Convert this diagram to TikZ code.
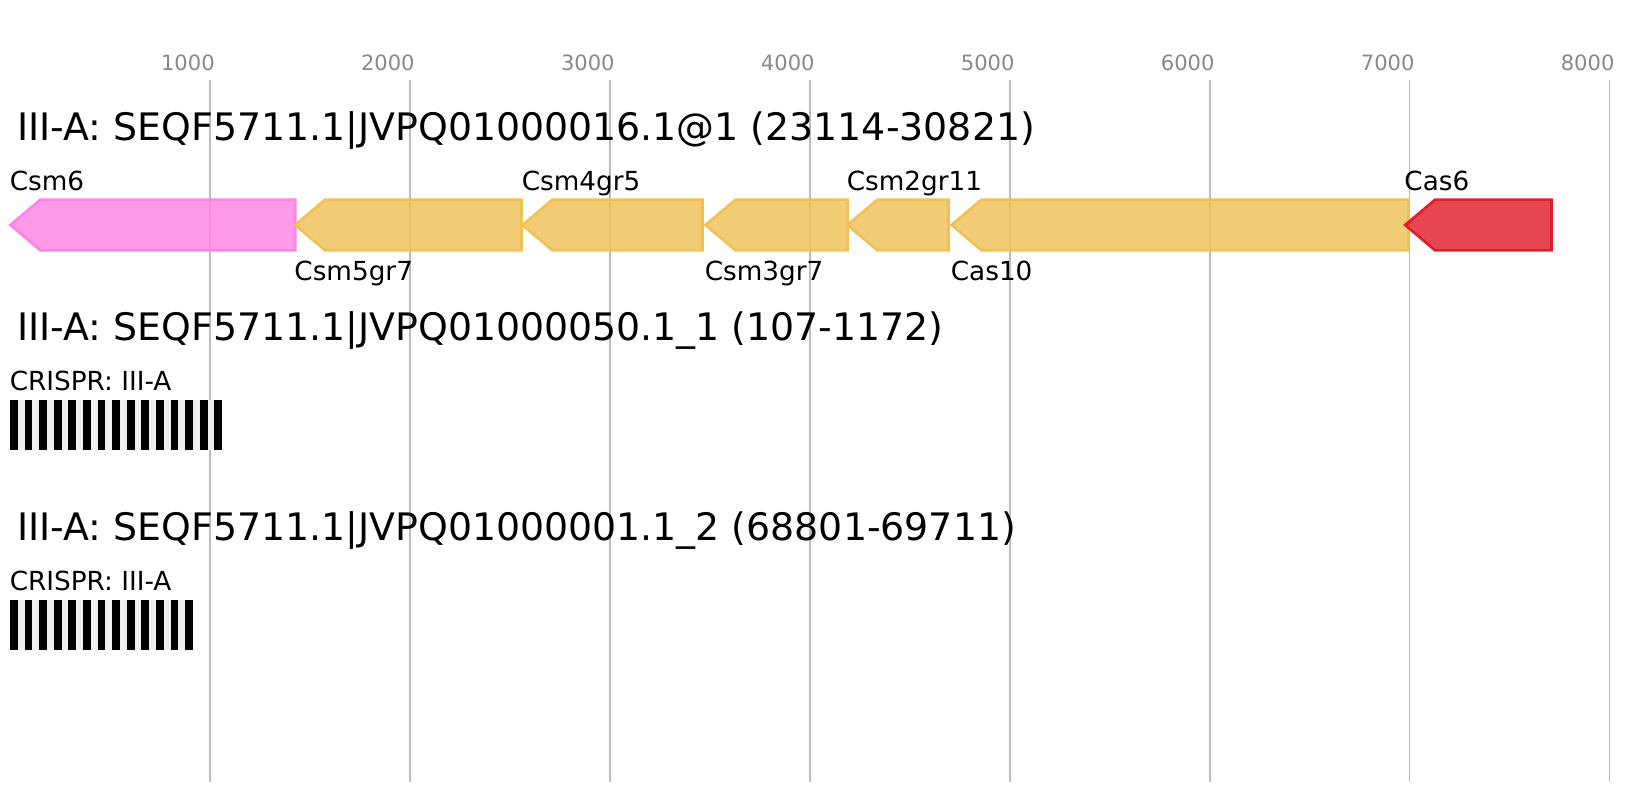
\documentclass[tikz,border=0pt]{standalone}
\usepackage{fontspec}
\setmainfont{DejaVu Sans}
\usetikzlibrary{positioning}
\definecolor{gridgray}{HTML}{BDBDBD}
\definecolor{tickgray}{HTML}{888888}
\definecolor{csmpink}{HTML}{FF80E2}
\definecolor{csmgold}{HTML}{EFBF51}
\definecolor{casred}{HTML}{E01727}
\definecolor{spacergray}{HTML}{F0F0F0}
\tikzset{locus/.style = {anchor=base west, inner sep=0pt, font=\fontsize{28.4pt}{30pt}\selectfont}}
\tikzset{genelabel/.style = {anchor=base west, inner sep=0pt, font=\fontsize{19.7pt}{21pt}\selectfont}}
\tikzset{ticklabel/.style = {anchor=base east, inner sep=0pt, text=tickgray, font=\fontsize{15.8pt}{17pt}\selectfont}}
\tikzset{gridline/.style = {draw=gridgray, line width=1.1pt}}
\tikzset{gene/.style = {draw=#1, fill=#1, fill opacity=0.8, draw opacity=0.95, line width=2pt, line join=miter}}

\begin{document}
\begin{tikzpicture}[x=0.75pt, y=-0.75pt]
  \useasboundingbox (0,0) rectangle (1641,800);

  % scale: 0.2 px per bp
  \foreach \k in {1,...,8} {
    \draw[gridline] ({10+199.96*\k},80) -- ({10+199.96*\k},782);
    \node[ticklabel] (tick\k) at ({15+199.96*\k},70) {\k000};
  }

  % locus 1
  \node[locus] (locus1) at (17,140.7) {III-A: SEQF5711.1|JVPQ01000016.1@1 (23114-30821)};
  \foreach \tip/\stop/\col/\ly/\id/\name in {
      10.4/295.2/csmpink/190/csm6/Csm6,
      295.1/521.5/csmgold/280/csm5/Csm5gr7,
      522.4/702.5/csmgold/190/csm4/Csm4gr5,
      705.5/847.5/csmgold/280/csm3/Csm3gr7,
      847.4/948.5/csmgold/190/csm2/Csm2gr11,
      951.5/1408.5/csmgold/280/cas10/Cas10,
      1405.1/1551.5/casred/190/cas6/Cas6} {
    \draw[gene=\col] (\tip,225) -- ({\tip+30},199.6) -- (\stop,199.6)
      -- (\stop,250.4) -- ({\tip+30},250.4) -- cycle;
    \node[genelabel] (\id) at ({\tip-0.9},\ly) {\name};
  }

  % locus 2
  \node[locus] (locus2) at (17,340) {III-A: SEQF5711.1|JVPQ01000050.1\_1 (107-1172)};
  \node[genelabel] (crispr2) at (9.5,390) {CRISPR: III-A};
  \fill[spacergray] (10,400) rectangle (222.2,450);
  \foreach \i in {0,...,14}
    \fill[black] ({10+14.6*\i},400) rectangle ++(7.8,50);

  % locus 3
  \node[locus] (locus3) at (17,540) {III-A: SEQF5711.1|JVPQ01000001.1\_2 (68801-69711)};
  \node[genelabel] (crispr3) at (9.5,590) {CRISPR: III-A};
  \fill[spacergray] (10,600) rectangle (193,650);
  \foreach \i in {0,...,12}
    \fill[black] ({10+14.6*\i},600) rectangle ++(7.8,50);
\end{tikzpicture}
\end{document}
